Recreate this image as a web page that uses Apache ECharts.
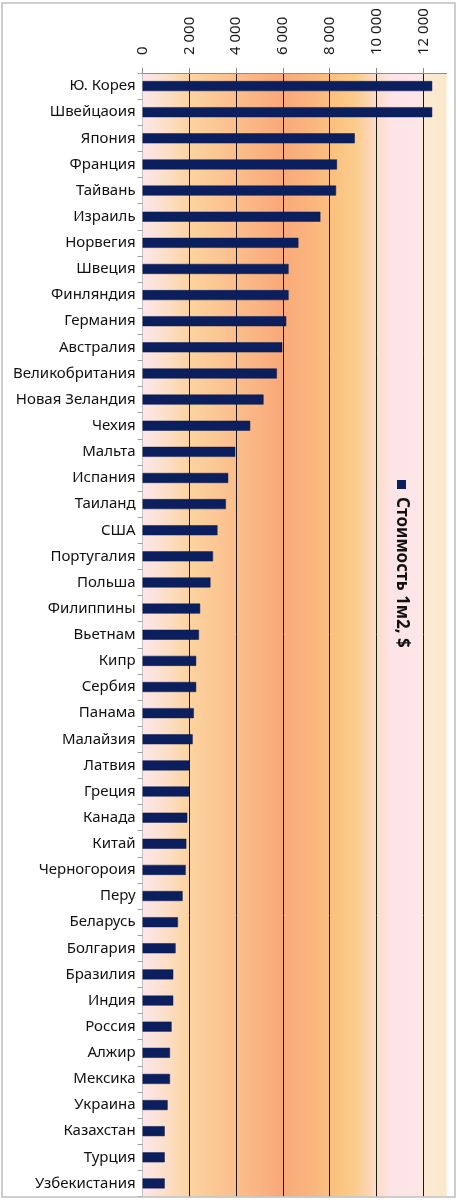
<!DOCTYPE html>
<html>
<head>
<meta charset="utf-8">
<script src="https://cdn.jsdelivr.net/npm/echarts@6/dist/echarts.min.js"></script>
<style>
  html, body { margin: 0; padding: 0; background: #fff; }
  #chart { width: 458px; height: 1200px; }
</style>
</head>
<body>
<div id="chart"></div>
<script>
const categories = [
  'Ю. Корея', 'Швейцаоия', 'Япония', 'Франция', 'Тайвань', 'Израиль', 'Норвегия',
  'Швеция', 'Финляндия', 'Германия', 'Австралия', 'Великобритания', 'Новая Зеландия',
  'Чехия', 'Мальта', 'Испания', 'Таиланд', 'США', 'Португалия', 'Польша', 'Филиппины',
  'Вьетнам', 'Кипр', 'Сербия', 'Панама', 'Малайзия', 'Латвия', 'Греция', 'Канада',
  'Китай', 'Черногороия', 'Перу', 'Беларусь', 'Болгария', 'Бразилия', 'Индия',
  'Россия', 'Алжир', 'Мексика', 'Украина', 'Казахстан', 'Турция', 'Узбекистания'
];
const values = [
  12380, 12380, 9070, 8310, 8270, 7600, 6660,
  6240, 6240, 6140, 5970, 5740, 5170,
  4600, 3960, 3660, 3560, 3200, 3010, 2900, 2460,
  2410, 2290, 2290, 2190, 2140, 2000, 2000, 1910,
  1870, 1840, 1710, 1510, 1410, 1310, 1310,
  1240, 1170, 1170, 1070, 945, 945, 945
];
const seriesName = 'Стоимость 1м2, $';
const axisMin = 0;
const axisMax = 13000;
const axisStep = 2000;

const FONT = '"Noto Sans", "DejaVu Sans", sans-serif';
const chart = echarts.init(document.getElementById('chart'), null, { renderer: 'canvas' });

function fmt(v) {
  return String(v).replace(/\B(?=(\d{3})+(?!\d))/g, ' ');
}

chart.setOption({
  animation: false,
  backgroundColor: '#ffffff',
  grid: {
    left: 142.6, top: 73, right: 11.3, bottom: 3.5,
    show: true,
    borderWidth: 0,
    backgroundColor: {
      type: 'linear', x: 0, y: 0, x2: 1, y2: 0,
      colorStops: [
        { offset: 0.00, color: '#fde6ea' },
        { offset: 0.07, color: '#fce0cc' },
        { offset: 0.15, color: '#fcd4a0' },
        { offset: 0.30, color: '#fbbf8c' },
        { offset: 0.45, color: '#f9a97a' },
        { offset: 0.55, color: '#fab47e' },
        { offset: 0.63, color: '#fbc27e' },
        { offset: 0.70, color: '#fbcc8c' },
        { offset: 0.77, color: '#fddcc8' },
        { offset: 0.82, color: '#fde4e6' },
        { offset: 0.91, color: '#fde6e8' },
        { offset: 0.93, color: '#fbead2' },
        { offset: 1.00, color: '#fbe8cc' }
      ]
    }
  },
  xAxis: {
    type: 'value',
    position: 'top',
    min: axisMin,
    max: axisMax,
    interval: axisStep,
    axisLine: { show: true, lineStyle: { color: '#8c8c8c', width: 1 } },
    axisTick: { show: true, length: 5, lineStyle: { color: '#8c8c8c' } },
    axisLabel: {
      rotate: -90,
      margin: 18,
      fontFamily: FONT,
      fontSize: 15,
      color: '#1a1a1a',
      showMaxLabel: false,
      formatter: function (v) { return v === axisMax ? '' : fmt(v); }
    },
    splitLine: {
      show: true,
      showMinLine: false,
      showMaxLine: false,
      lineStyle: { color: '#1a1a1a', width: 1 }
    }
  },
  yAxis: {
    type: 'category',
    inverse: true,
    data: categories,
    axisLine: { show: true, lineStyle: { color: '#c0c0c0', width: 1 } },
    axisTick: { show: true, length: 5, lineStyle: { color: '#a0a0a0' } },
    axisLabel: {
      margin: 7,
      fontFamily: FONT,
      fontSize: 15,
      color: '#111'
    }
  },
  series: [{
    name: seriesName,
    type: 'bar',
    data: values,
    barWidth: 10,
    itemStyle: { color: '#0b1f5e', borderColor: '#0a1a4e', borderWidth: 0.5 }
  }],
  graphic: [
    {
      type: 'rect',
      shape: { x: 2, y: 3, width: 453, height: 1194 },
      style: { fill: 'none', stroke: '#bfbfbf', lineWidth: 1.5 },
      z: 100, silent: true
    },
    {
      type: 'rect',
      shape: { x: 397, y: 480, width: 9, height: 9 },
      style: { fill: '#0b1f5e' },
      z: 100, silent: true
    },
    {
      type: 'text',
      x: 402, y: 497,
      rotation: -Math.PI / 2,
      style: {
        text: seriesName,
        fontFamily: FONT,
        fontSize: 17,
        fontWeight: 'bold',
        fill: '#111',
        textAlign: 'left',
        textVerticalAlign: 'middle'
      },
      z: 100, silent: true
    }
  ]
});
</script>
</body>
</html>
